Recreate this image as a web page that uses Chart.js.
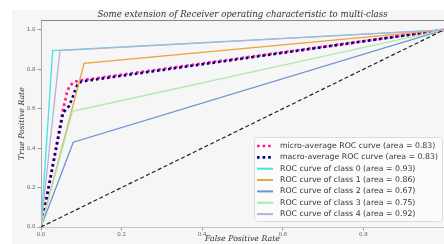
<!DOCTYPE html>
<html>
<head>
<meta charset="utf-8">
<script src="https://cdn.jsdelivr.net/npm/chart.js@4.4.1/dist/chart.umd.min.js"></script>
<style>
  html, body { margin: 0; padding: 0; background: #fff; }
  #wrap { width: 444px; height: 244px; position: relative; }
</style>
</head>
<body>
<div id="wrap"><canvas id="roc"></canvas></div>
<script>
// ROC data
const titleText = 'Some extension of Receiver operating characteristic to multi-class';
const xTicks = [0, 0.2, 0.4, 0.6, 0.8, 1.0];

const microFpr = [0, 0.055, 0.06, 0.064, 0.07, 0.08, 0.095, 1];
const microTpr = [0, 0.6, 0.64, 0.68, 0.712, 0.733, 0.743, 1];
const macroFpr = [0, 0.055, 0.07, 0.078, 0.084, 0.09, 0.1, 1];
const macroTpr = [0, 0.58, 0.615, 0.655, 0.69, 0.72, 0.738, 1];

const classFpr = [
  [0, 0.029, 1],
  [0, 0.107, 1],
  [0, 0.08, 1],
  [0, 0.078, 1],
  [0, 0.047, 1],
];
const classTpr = [
  [0, 0.895, 1],
  [0, 0.83, 1],
  [0, 0.43, 1],
  [0, 0.587, 1],
  [0, 0.895, 1],
];
const microAuc = 0.83;
const macroAuc = 0.83;
const classAuc = [0.93, 0.86, 0.67, 0.75, 0.92];
const classColors = ['#3fe3e3', '#eea336', '#6d92cf', '#ade8ad', '#b4b2d8'];

const diagX = [0, 1];
const diagY = [0, 1];

function pts(xs, ys){ return xs.map((x, i) => ({x, y: ys[i]})); }

const sets = [];
sets.push({
  label: `micro-average ROC curve (area = ${microAuc.toFixed(2)})`,
  data: pts(microFpr, microTpr),
  borderColor: '#ff1493', borderWidth: 2.6, borderDash: [2.6, 3], order: 10
});
sets.push({
  label: `macro-average ROC curve (area = ${macroAuc.toFixed(2)})`,
  data: pts(macroFpr, macroTpr),
  borderColor: '#000080', borderWidth: 2.6, borderDash: [2.6, 3], order: 9
});
classAuc.forEach((a, i) => {
  sets.push({
    label: `ROC curve of class ${i} (area = ${a.toFixed(2)})`,
    data: pts(classFpr[i], classTpr[i]),
    borderColor: classColors[i], borderWidth: 1.3, order: 8 - i
  });
});
sets.push({
  label: '',
  data: pts(diagX, diagY),
  borderColor: '#222', borderWidth: 1.2, borderDash: [4, 2.5], order: 1
});

// background + top spine
const frame = {
  id: 'frame',
  beforeDraw(c){
    const ctx = c.ctx;
    ctx.save();
    ctx.fillStyle = '#fff';
    ctx.fillRect(0, 0, c.width, c.height);
    ctx.fillStyle = '#f6f6f6';
    ctx.fillRect(12, 10, c.width - 12, c.height - 10);
    ctx.restore();
  },
  afterDraw(c){
    const ctx = c.ctx, a = c.chartArea;
    ctx.save();
    ctx.strokeStyle = '#888';
    ctx.lineWidth = 1;
    ctx.beginPath();
    ctx.moveTo(a.left, a.top + 0.5);
    ctx.lineTo(a.right, a.top + 0.5);
    ctx.stroke();
    ctx.restore();
  }
};

// legend in lower right, like matplotlib
const boxLegend = {
  id: 'boxLegend',
  afterDraw(c){
    const ctx = c.ctx;
    const items = c.data.datasets.filter(d => d.label);
    const bx = 254, by = 137, bw = 188, bh = 84, rowH = 11.35;
    ctx.save();
    ctx.fillStyle = 'rgba(252,252,252,0.9)';
    ctx.strokeStyle = '#dcdcdc';
    ctx.lineWidth = 1;
    ctx.beginPath();
    ctx.roundRect(bx + 0.5, by + 0.5, bw, bh, 3);
    ctx.fill();
    ctx.stroke();
    ctx.font = '7.8px "DejaVu Sans"';
    ctx.textBaseline = 'middle';
    items.forEach((d, i) => {
      const y = by + 9 + i * rowH;
      ctx.strokeStyle = d.borderColor;
      ctx.lineWidth = d.borderDash ? 2.6 : 2;
      ctx.setLineDash(d.borderDash || []);
      ctx.beginPath();
      ctx.moveTo(257, y);
      ctx.lineTo(273, y);
      ctx.stroke();
      ctx.setLineDash([]);
      ctx.fillStyle = '#333';
      ctx.fillText(d.label, 280, y);
    });
    ctx.restore();
  }
};

const tickFont = { family: 'DejaVu Sans', size: 5.5 };
const labFont = { family: 'DejaVu Serif', style: 'italic', size: 7.8 };

new Chart(document.getElementById('roc'), {
  type: 'line',
  data: { datasets: sets },
  plugins: [frame, boxLegend],
  options: {
    responsive: true,
    maintainAspectRatio: false,
    devicePixelRatio: 1,
    animation: false,
    layout: { padding: 0 },
    elements: { point: { radius: 0 }, line: { tension: 0, borderCapStyle: 'butt' } },
    plugins: {
      legend: { display: false },
      tooltip: { enabled: false },
      title: {
        display: true, text: titleText, fullSize: false,
        font: { family: 'DejaVu Serif', style: 'italic', size: 8.6, weight: 'normal' },
        color: '#333', padding: { top: 9.7, bottom: 0 }
      }
    },
    scales: {
      x: {
        type: 'linear', min: 0, max: 1,
        afterBuildTicks: s => { s.ticks = xTicks.map(v => ({ value: v })); },
        afterFit: s => { s.height = 17; s.paddingLeft = 0; s.paddingRight = 0; },
        ticks: {
          font: tickFont, color: '#666', padding: 1, maxRotation: 0,
          callback: v => v >= 1 ? '' : v.toFixed(1)
        },
        grid: { display: true, drawOnChartArea: false, drawTicks: true, tickLength: 3.5, tickColor: '#999' },
        border: { display: true, color: '#c4c4c4' },
        title: { display: true, text: 'False Positive Rate', font: labFont, color: '#333', padding: { top: 0, bottom: 0 } }
      },
      y: {
        min: 0, max: 1.05,
        afterBuildTicks: s => { s.ticks = xTicks.map(v => ({ value: v })); },
        afterFit: s => { s.width = 41; s.paddingTop = 0; s.paddingBottom = 0; },
        ticks: { font: tickFont, color: '#666', padding: 2, callback: v => v.toFixed(1) },
        grid: { display: true, drawOnChartArea: false, drawTicks: true, tickLength: 3.5, tickColor: '#999' },
        border: { display: true, color: '#aaa' },
        title: { display: true, text: 'True Positive Rate', font: labFont, color: '#333', padding: { top: 17.5, bottom: 0 } }
      }
    }
  }
});
</script>
</body>
</html>
